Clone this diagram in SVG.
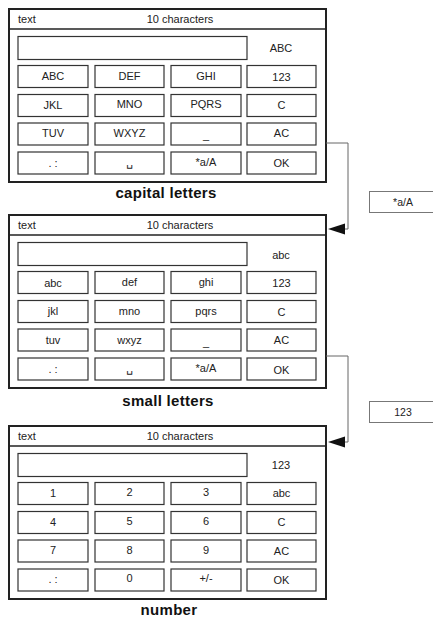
<svg xmlns="http://www.w3.org/2000/svg" width="433" height="619" viewBox="0 0 433 619">
<style>
.panel{fill:#fff;stroke:#222;stroke-width:2}
.hdr{stroke:#222;stroke-width:1.6}
.btn{fill:#fff;stroke:#333;stroke-width:1.2}
.t{font-family:"Liberation Sans",Arial,sans-serif;font-size:11px;fill:#222}
.c{text-anchor:middle}
.sp{font-family:"DejaVu Sans",sans-serif;font-size:11px}
.cap{font-family:"Liberation Sans",Arial,sans-serif;font-size:15px;font-weight:bold;fill:#111;text-anchor:middle;letter-spacing:0.3px}
.conn{fill:none;stroke:#666;stroke-width:1}
.tag{fill:#fff;stroke:#777;stroke-width:1}
</style>
<defs>
<g id="frame">
<rect class="panel" x="9" y="0" width="317" height="173"/>
<line class="hdr" x1="9" y1="20" x2="326" y2="20"/>
<text class="t" x="18" y="14">text</text>
<text class="t c" x="180" y="14">10 characters</text>
<rect class="btn" x="18" y="27.5" width="229" height="23"/>
<rect class="btn" x="18" y="56.5" width="70" height="22"/>
<rect class="btn" x="95" y="56.5" width="69" height="22"/>
<rect class="btn" x="171" y="56.5" width="70" height="22"/>
<rect class="btn" x="247" y="56.5" width="69" height="22"/>
<rect class="btn" x="18" y="85.5" width="70" height="22"/>
<rect class="btn" x="95" y="85.5" width="69" height="22"/>
<rect class="btn" x="171" y="85.5" width="70" height="22"/>
<rect class="btn" x="247" y="85.5" width="69" height="22"/>
<rect class="btn" x="18" y="114" width="70" height="22"/>
<rect class="btn" x="95" y="114" width="69" height="22"/>
<rect class="btn" x="171" y="114" width="70" height="22"/>
<rect class="btn" x="247" y="114" width="69" height="22"/>
<rect class="btn" x="18" y="143" width="70" height="22"/>
<rect class="btn" x="95" y="143" width="69" height="22"/>
<rect class="btn" x="171" y="143" width="70" height="22"/>
<rect class="btn" x="247" y="143" width="69" height="22"/>
</g>
</defs>

<g id="capital-letters" transform="translate(0,9)">
<use href="#frame"/>
<g class="t c">
<text x="281" y="43">ABC</text>
<text x="53" y="71">ABC</text><text x="129.5" y="71">DEF</text><text x="206" y="71">GHI</text><text x="281.5" y="72">123</text>
<text x="53" y="100">JKL</text><text x="129.5" y="99">MNO</text><text x="206" y="99">PQRS</text><text x="281.5" y="100">C</text>
<text x="53" y="128">TUV</text><text x="129.5" y="128">WXYZ</text><text x="206" y="130">_</text><text x="281.5" y="128">AC</text>
<text x="53" y="158">. :</text><text class="sp" x="129.5" y="157">␣</text><text x="206" y="157">*a/A</text><text x="281.5" y="158">OK</text>
</g>
<text class="cap" x="166" y="189">capital letters</text>
</g>

<g id="small-letters" transform="translate(0,215)">
<use href="#frame"/>
<g class="t c">
<text x="281" y="44">abc</text>
<text x="53" y="72">abc</text><text x="129.5" y="71">def</text><text x="206" y="71">ghi</text><text x="281.5" y="72">123</text>
<text x="53" y="100">jkl</text><text x="129.5" y="100">mno</text><text x="206" y="100">pqrs</text><text x="281.5" y="101">C</text>
<text x="53" y="129">tuv</text><text x="129.5" y="129">wxyz</text><text x="206" y="131">_</text><text x="281.5" y="129">AC</text>
<text x="53" y="158">. :</text><text class="sp" x="129.5" y="157">␣</text><text x="206" y="157">*a/A</text><text x="281.5" y="159">OK</text>
</g>
<text class="cap" x="168" y="191">small letters</text>
</g>

<g id="number" transform="translate(0,426)">
<use href="#frame"/>
<g class="t c">
<text x="281" y="43">123</text>
<text x="53" y="71">1</text><text x="129.5" y="70">2</text><text x="206" y="70">3</text><text x="281.5" y="71">abc</text>
<text x="53" y="100">4</text><text x="129.5" y="99">5</text><text x="206" y="99">6</text><text x="281.5" y="100">C</text>
<text x="53" y="128">7</text><text x="129.5" y="128">8</text><text x="206" y="128">9</text><text x="281.5" y="129">AC</text>
<text x="53" y="157">. :</text><text x="129.5" y="156">0</text><text x="206" y="156">+/-</text><text x="281.5" y="158">OK</text>
</g>
<text class="cap" x="169" y="189">number</text>
</g>

<g id="connectors">
<polyline class="conn" points="326,143 348,143 348,229 344,229"/>
<polygon points="328,229 345,223.5 345,234.5" fill="#111"/>
<polyline class="conn" points="326,356 348,356 348,442 344,442"/>
<polygon points="328,442 345,436.5 345,447.5" fill="#111"/>
</g>

<g id="tag-aA">
<rect class="tag" x="369.5" y="191.5" width="70" height="21"/>
<text class="t c" x="403" y="206" style="font-size:10.5px">*a/A</text>
</g>
<g id="tag-123">
<rect class="tag" x="369.5" y="401.5" width="70" height="21"/>
<text class="t c" x="403" y="416" style="font-size:10.5px">123</text>
</g>
</svg>
